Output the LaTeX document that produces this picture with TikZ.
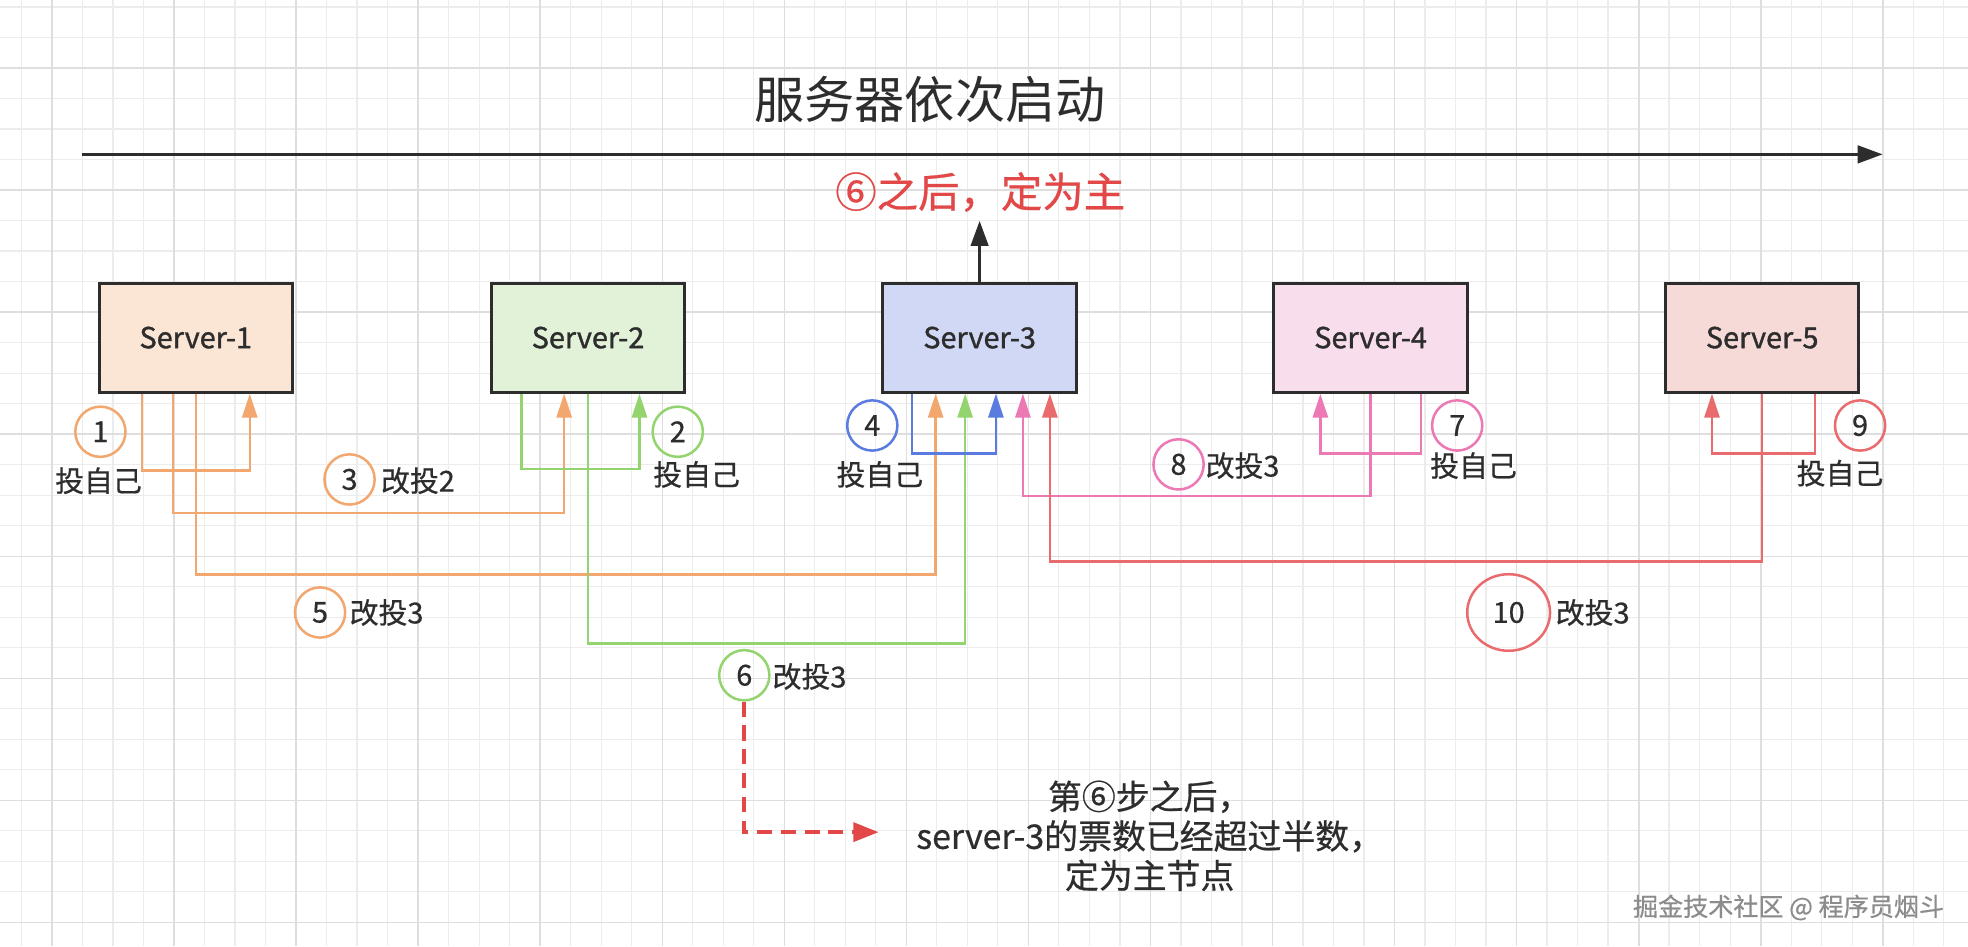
\documentclass[tikz,border=0pt]{standalone}
\usepackage{fontspec}
\setmainfont{Noto Sans CJK SC}
\newfontfamily\semifont{Noto Sans CJK SC}[FakeBold=1.2]
\newfontfamily\lightbold{Noto Sans CJK SC}[FakeBold=0.6]
\usetikzlibrary{arrows.meta,shapes.geometric}
\definecolor{gminorc}{RGB}{236,236,236}
\definecolor{gmajorc}{RGB}{222,222,222}
\definecolor{ink}{RGB}{45,45,45}
\definecolor{corange}{RGB}{242,167,110}
\definecolor{cgreen}{RGB}{147,212,111}
\definecolor{cblue}{RGB}{90,123,224}
\definecolor{cpink}{RGB}{236,120,180}
\definecolor{cred}{RGB}{234,107,110}
\definecolor{ctitle}{RGB}{226,72,72}
\definecolor{fone}{RGB}{251,230,214}
\definecolor{ftwo}{RGB}{226,242,217}
\definecolor{fthree}{RGB}{208,216,245}
\definecolor{ffour}{RGB}{248,222,237}
\definecolor{ffive}{RGB}{246,218,215}
\definecolor{wmark}{RGB}{140,140,140}
\begin{document}
\begin{tikzpicture}[x=1pt,y=-1pt,
  gminor/.style={draw=gminorc,line width=1pt},
  gmajor/.style={draw=gmajorc,line width=1.2pt},
  server/.style={draw=ink,line width=2.4pt,minimum width=154pt,minimum height=87pt,inner sep=0pt,
    font=\semifont\fontsize{23}{27}\selectfont,text=ink},
  vote/.style={ellipse,draw,line width=2pt,minimum width=40pt,minimum height=40pt,inner sep=0pt,
    font=\lightbold\fontsize{23}{27}\selectfont,text=ink},
  lbl/.style={inner sep=0pt,font=\lightbold\fontsize{23}{27}\selectfont,text=ink},
  conn/.style={line width=2pt,-{Triangle[width=12pt,length=19pt]}},
  blk/.style={draw=ink,line width=2.2pt,-{Triangle[width=14pt,length=20pt]}},
]
\useasboundingbox (0,0) rectangle (1568,754);
\fill[white] (0,0) rectangle (1568,754);
% grid
\foreach \i in {-1,...,64} \draw[gminor] ({17.1+24.31*\i},0) -- ({17.1+24.31*\i},754);
\foreach \j in {-2,...,29} \draw[gminor] (0,{54.2+24.31*\j}) -- (1568,{54.2+24.31*\j});
\foreach \i in {0,...,15} \draw[gmajor] ({41.4+97.25*\i},0) -- ({41.4+97.25*\i},754);
\foreach \j in {0,...,7} \draw[gmajor] (0,{54.2+97.25*\j}) -- (1568,{54.2+97.25*\j});

% title and timeline
\node[inner sep=0pt,font=\fontsize{40}{46}\selectfont,text=ink] (title) at (741,79) {服务器依次启动};
\coordinate (tl0) at (65,123);
\coordinate (tl1) at (1500,123);
\draw[draw=ink,line width=2.4pt,-{Triangle[width=14pt,length=20pt]}] (tl0) -- (tl1);

% servers
\node[server,fill=fone]   (s1) at (156,269)  {Server-1};
\node[server,fill=ftwo]   (s2) at (468.5,269) {Server-2};
\node[server,fill=fthree] (s3) at (780.5,269) {Server-3};
\node[server,fill=ffour]  (s4) at (1092,269) {Server-4};
\node[server,fill=ffive]  (s5) at (1404,269) {Server-5};

% leader
\node[inner sep=0pt,font=\lightbold\fontsize{33}{38}\selectfont,text=ctitle] (lead) at (781,153) {⑥之后，定为主};
\coordinate (up) at (780.5,176);
\draw[blk] (s3.north) -- (up);

% Server-1 votes (orange)
\draw[conn,draw=corange,-{Triangle[width=12pt,length=19pt,fill=corange]}]
  ([xshift=-43pt]s1.south) -- ++(0,61) -| ([xshift=43pt]s1.south);
\draw[conn,draw=corange,-{Triangle[width=12pt,length=19pt,fill=corange]}]
  ([xshift=-18pt]s1.south) -- ++(0,95) -| ([xshift=-19pt]s2.south);
\draw[conn,draw=corange,-{Triangle[width=12pt,length=19pt,fill=corange]}]
  (s1.south) -- ++(0,144) -| ([xshift=-35pt]s3.south);
% Server-2 votes (green)
\draw[conn,draw=cgreen,-{Triangle[width=12pt,length=19pt,fill=cgreen]}]
  ([xshift=-53pt]s2.south) -- ++(0,60) -| ([xshift=41pt]s2.south);
\draw[conn,draw=cgreen,-{Triangle[width=12pt,length=19pt,fill=cgreen]}]
  (s2.south) -- ++(0,199) -| ([xshift=-11.5pt]s3.south);
% Server-3 self (blue)
\draw[conn,draw=cblue,-{Triangle[width=12pt,length=19pt,fill=cblue]}]
  ([xshift=-54pt]s3.south) -- ++(0,47.5) -| ([xshift=13pt]s3.south);
% Server-4 (pink)
\draw[conn,draw=cpink,-{Triangle[width=12pt,length=19pt,fill=cpink]}]
  ([xshift=40pt]s4.south) -- ++(0,47.5) -| ([xshift=-40pt]s4.south);
\draw[conn,draw=cpink,-{Triangle[width=12pt,length=19pt,fill=cpink]}]
  (s4.south) -- ++(0,81.5) -| ([xshift=34.5pt]s3.south);
% Server-5 (red)
\draw[conn,draw=cred,-{Triangle[width=12pt,length=19pt,fill=cred]}]
  ([xshift=42pt]s5.south) -- ++(0,47.5) -| ([xshift=-40pt]s5.south);
\draw[conn,draw=cred,-{Triangle[width=12pt,length=19pt,fill=cred]}]
  (s5.south) -- ++(0,133.5) -| ([xshift=56pt]s3.south);

% step circles and labels
\node[vote,draw=corange] (c1) at (80,344) {1};
\node[lbl] (l1) at (78.5,383) {投自己};
\node[vote,draw=cgreen] (c2) at (540,344) {2};
\node[lbl] (l2) at (555,378) {投自己};
\node[vote,draw=corange] (c3) at (278.5,382) {3};
\node[lbl] (l3) at (333,383) {改投2};
\node[vote,draw=cblue] (c4) at (695,339) {4};
\node[lbl] (l4) at (701,378) {投自己};
\node[vote,draw=corange] (c5) at (255,488) {5};
\node[lbl] (l5) at (308,488) {改投3};
\node[vote,draw=cgreen] (c6) at (593,538) {6};
\node[lbl] (l6) at (645,539) {改投3};
\node[vote,draw=cpink] (c7) at (1161,339) {7};
\node[lbl] (l7) at (1174,371) {投自己};
\node[vote,draw=cpink] (c8) at (939,370) {8};
\node[lbl] (l8) at (990,371) {改投3};
\node[vote,draw=cred] (c9) at (1482,339) {9};
\node[lbl] (l9) at (1466,377) {投自己};
\node[vote,draw=cred,minimum width=66pt,minimum height=61pt] (c10) at (1202,488) {10};
\node[lbl] (l10) at (1269,488) {改投3};

% dashed pointer to conclusion
\coordinate (dend) at (700,663);
\draw[draw=ctitle,line width=3pt,dash pattern=on 12pt off 7pt,-{Triangle[width=15pt,length=20pt,fill=ctitle]}]
  (c6.south) |- (dend);
\node[inner sep=0pt,align=center,font=\lightbold\fontsize{27}{31.5}\selectfont,text=ink] (concl) at (916,666)
  {第⑥步之后，\\server-3的票数已经超过半数，\\定为主节点};

% watermark
\node[inner sep=0pt,font=\lightbold\fontsize{20}{24}\selectfont,text=wmark] (wm) at (1425,723) {掘金技术社区 @ 程序员烟斗};
\end{tikzpicture}
\end{document}
